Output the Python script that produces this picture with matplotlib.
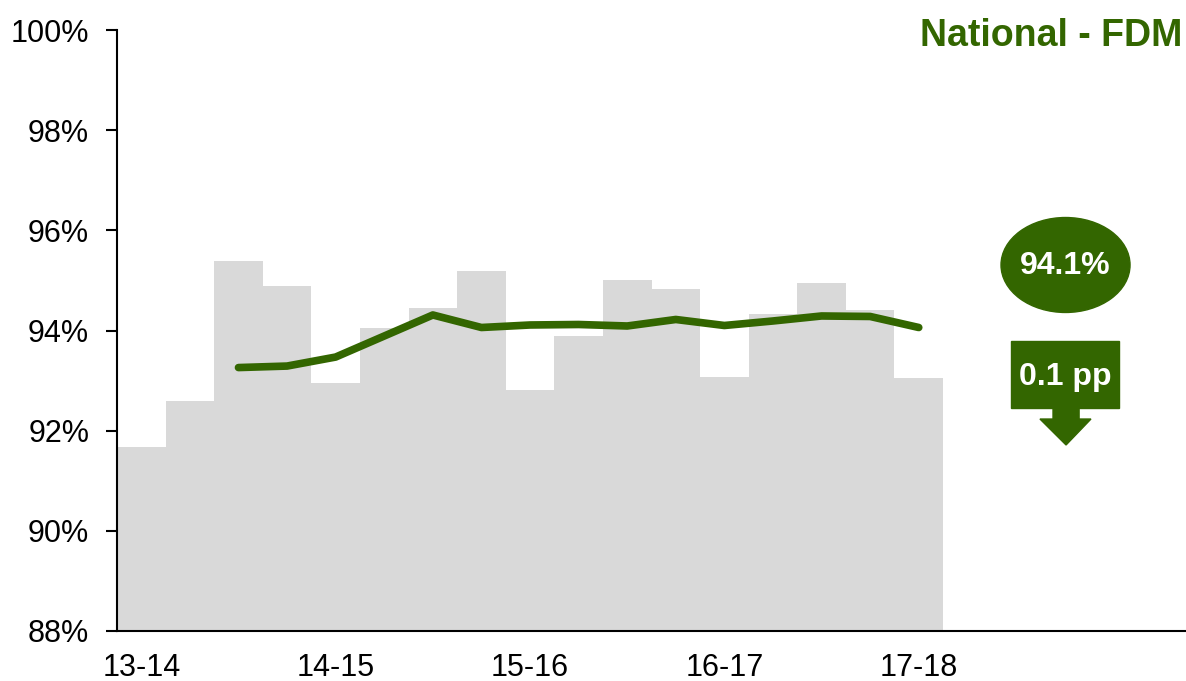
import matplotlib.pyplot as plt
from matplotlib.patches import Ellipse, Rectangle, Polygon

plt.rcParams['font.family'] = ['Liberation Sans', 'DejaVu Sans']

# quarterly values, 13-14 Q1 .. 17-18 Q1
quarter_vals = [91.68, 92.60, 95.38, 94.88, 92.96, 94.04, 94.45, 95.19, 92.82,
                93.89, 95.00, 94.82, 93.08, 94.33, 94.94, 94.41, 93.06]
# rolling figure, starts at the third quarter
rolling_vals = [93.26, 93.29, 93.47, 93.89, 94.31, 94.06, 94.11, 94.12, 94.09,
                94.22, 94.10, 94.19, 94.29, 94.28, 94.06]
rolling_start = 2
year_labels = ['13-14', '14-15', '15-16', '16-17', '17-18']
latest_text = '94.1%'
change_text = '0.1 pp'
title = 'National - FDM'

green = '#336600'
grey = '#d9d9d9'

fig = plt.figure(figsize=(11.86, 6.81), dpi=100)
ax = fig.add_axes([117 / 1186, 50 / 681, 1069 / 1186, 601 / 681])

xs = list(range(len(quarter_vals)))
ax.bar(xs, quarter_vals, width=1.0, color=grey, zorder=1)
ax.plot(xs[rolling_start:], rolling_vals, color=green, lw=5.5,
        solid_capstyle='round', solid_joinstyle='round', zorder=3)

ax.set_xlim(-0.5, 21.5)
ax.set_ylim(88, 100)
ax.set_yticks(range(88, 101, 2))
ax.set_yticklabels([f'{v}%' for v in range(88, 101, 2)])
ax.set_xticks(xs[::4])
ax.set_xticklabels(year_labels)
ax.tick_params(axis='y', length=8, width=1.5, labelsize=22, pad=12)
ax.tick_params(axis='x', length=0, labelsize=22, pad=16)
for s in ['top', 'right']:
    ax.spines[s].set_visible(False)
for s in ['left', 'bottom']:
    ax.spines[s].set_linewidth(1.5)

ax.text(0.997, 0.99, title, transform=ax.transAxes, ha='right', va='center',
        fontsize=27, fontweight='bold', color=green)

# latest value bubble
ax.add_patch(Ellipse((0.8873, 0.609), 0.1207, 0.158, transform=ax.transAxes,
                     color=green, zorder=4, clip_on=False))
ax.text(0.8868, 0.607, latest_text, transform=ax.transAxes, ha='center',
        va='center', fontsize=23, fontweight='bold', color='white', zorder=5)

# change box with down arrow
ax.add_patch(Rectangle((0.8363, 0.371), 0.101, 0.1115, transform=ax.transAxes,
                       color=green, zorder=4, clip_on=False))
ax.add_patch(Polygon([(0.8756, 0.372), (0.9000, 0.372), (0.9000, 0.3527),
                      (0.9111, 0.3527), (0.8878, 0.3095), (0.8634, 0.3527),
                      (0.8756, 0.3527)], closed=True, transform=ax.transAxes,
                     color=green, zorder=4, clip_on=False))
ax.text(0.8868, 0.423, change_text, transform=ax.transAxes, ha='center',
        va='center', fontsize=23, fontweight='bold', color='white', zorder=5)

fig.savefig('out.png', dpi=100)
